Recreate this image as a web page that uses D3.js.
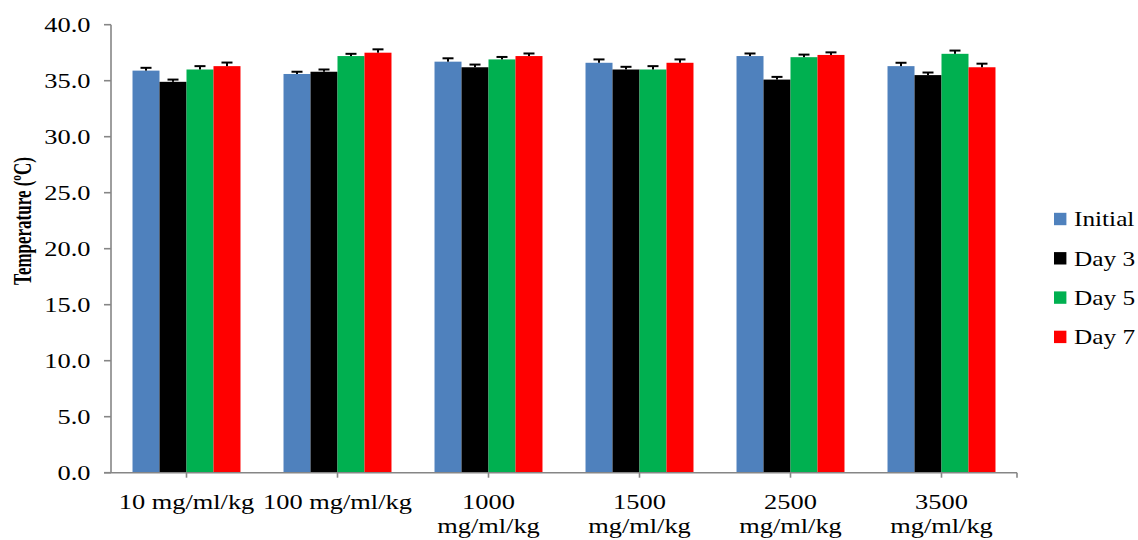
<!DOCTYPE html>
<html>
<head>
<meta charset="utf-8">
<script src="https://cdn.jsdelivr.net/npm/d3@7"></script>
<style>
  html, body { margin: 0; padding: 0; background: #fff; }
  svg { display: block; }
  text { font-family: "Liberation Serif", "Times New Roman", serif; fill: #000; }
</style>
</head>
<body>
<svg id="chart" width="1138" height="540"></svg>
<script>
// Dose groups (line breaks mark wrapped axis labels)
const categories = ["10 mg/ml/kg", "100 mg/ml/kg", "1000\nmg/ml/kg", "1500\nmg/ml/kg", "2500\nmg/ml/kg", "3500\nmg/ml/kg"];
const seriesNames = ["Initial", "Day 3", "Day 5", "Day 7"];

// Mean body temperature (°C) per series, one value per dose group
const initialValues = [35.9, 35.6, 36.7, 36.6, 37.2, 36.3];
const day3Values    = [34.9, 35.8, 36.2, 36.0, 35.1, 35.5];
const day5Values    = [36.0, 37.2, 36.9, 36.0, 37.1, 37.4];
const day7Values    = [36.3, 37.5, 37.2, 36.6, 37.3, 36.2];

// Error (SEM) per series
const initialErr = [0.25, 0.2, 0.3, 0.3, 0.23, 0.3];
const day3Err    = [0.2, 0.2, 0.24, 0.24, 0.24, 0.23];
const day5Err    = [0.3, 0.2, 0.22, 0.3, 0.23, 0.29];
const day7Err    = [0.32, 0.3, 0.23, 0.3, 0.23, 0.32];

const yTicks = [0, 5, 10, 15, 20, 25, 30, 35, 40];
const colors = ["#4F81BD", "#000000", "#00B050", "#FF0000"];

const values = [initialValues, day3Values, day5Values, day7Values];
const errors = [initialErr, day3Err, day5Err, day7Err];

const svg = d3.select("#chart");
const axisColor = "#868686";
const SX = 1.2; // horizontal glyph stretch used throughout the figure
const FS = 22;

const plot = { left: 111, right: 1017, top: 24.7, bottom: 472.7 };

const x = d3.scaleBand().domain(d3.range(categories.length)).range([plot.left, plot.right]);
const inner = d3.scaleBand().domain(d3.range(seriesNames.length))
  .range([x.bandwidth() * 0.1425, x.bandwidth() * 0.8575]);
const y = d3.scaleLinear().domain([0, 40]).range([plot.bottom, plot.top]);

// stretched text helper
function stretchedText(parent, tx, ty, str, opts) {
  const g = parent.append("g").attr("transform", `translate(${tx},${ty}) scale(${opts.sx || SX},1)`);
  const t = g.append("text")
    .attr("text-anchor", opts.anchor || "start")
    .attr("font-size", opts.size || FS)
    .attr("font-weight", opts.weight || "normal")
    .text(str);
  if (opts.dy) t.attr("dy", opts.dy);
  return g;
}

// bars
const groups = svg.append("g").selectAll("g.grp")
  .data(categories).join("g")
  .attr("class", "grp")
  .attr("transform", (d, i) => `translate(${x(i)},0)`);

seriesNames.forEach((s, si) => {
  groups.append("rect")
    .attr("x", (d, i) => inner(si))
    .attr("width", inner.bandwidth())
    .attr("y", (d, i) => y(values[si][i]))
    .attr("height", (d, i) => y(0) - y(values[si][i]))
    .attr("fill", colors[si]);
});

// error bars (upper whisker with cap)
seriesNames.forEach((s, si) => {
  const cx = inner(si) + inner.bandwidth() / 2;
  groups.append("line")
    .attr("x1", cx).attr("x2", cx)
    .attr("y1", (d, i) => y(values[si][i]))
    .attr("y2", (d, i) => y(values[si][i] + errors[si][i]))
    .attr("stroke", "#000").attr("stroke-width", 2);
  groups.append("line")
    .attr("x1", cx - 5.5).attr("x2", cx + 5.5)
    .attr("y1", (d, i) => y(values[si][i] + errors[si][i]))
    .attr("y2", (d, i) => y(values[si][i] + errors[si][i]))
    .attr("stroke", "#000").attr("stroke-width", 2);
});

// y axis
const yAxis = svg.append("g");
yAxis.append("line")
  .attr("x1", plot.left).attr("x2", plot.left)
  .attr("y1", y(40)).attr("y2", y(0))
  .attr("stroke", axisColor).attr("stroke-width", 1.6);
yTicks.forEach(t => {
  yAxis.append("line")
    .attr("x1", plot.left - 7).attr("x2", plot.left)
    .attr("y1", y(t)).attr("y2", y(t))
    .attr("stroke", axisColor).attr("stroke-width", 1.6);
  stretchedText(yAxis, 90.5, y(t), d3.format(".1f")(t), { anchor: "end", dy: "0.34em" });
});

// x axis
const xAxis = svg.append("g");
xAxis.append("line")
  .attr("x1", plot.left - 7).attr("x2", plot.right)
  .attr("y1", y(0)).attr("y2", y(0))
  .attr("stroke", axisColor).attr("stroke-width", 1.6);
categories.forEach((c, i) => {
  const cx = x(i) + x.bandwidth() / 2;
  xAxis.append("line")
    .attr("x1", cx).attr("x2", cx)
    .attr("y1", y(0)).attr("y2", y(0) + 5)
    .attr("stroke", axisColor).attr("stroke-width", 1.6);
  c.split("\n").forEach((line, li) => {
    stretchedText(xAxis, cx, 509 + li * 24, line, { anchor: "middle" });
  });
});
xAxis.append("line")
  .attr("x1", plot.right).attr("x2", plot.right)
  .attr("y1", y(0)).attr("y2", y(0) + 5)
  .attr("stroke", axisColor).attr("stroke-width", 1.6);

// y axis title
svg.append("g")
  .attr("transform", `translate(31,221) rotate(-90) scale(1,1.45)`)
  .append("text")
  .attr("text-anchor", "middle")
  .attr("font-size", 17)
  .attr("font-weight", "bold")
  .text("Temperature (ºC)");

// legend
const legend = svg.append("g");
seriesNames.forEach((s, si) => {
  const cy = 219 + si * 39.3;
  legend.append("rect")
    .attr("x", 1054).attr("y", cy - 6.2)
    .attr("width", 12.4).attr("height", 12.4)
    .attr("fill", colors[si]);
  stretchedText(legend, 1074, cy, s, { anchor: "start", dy: "0.34em", sx: 1.15 });
});
</script>
</body>
</html>
